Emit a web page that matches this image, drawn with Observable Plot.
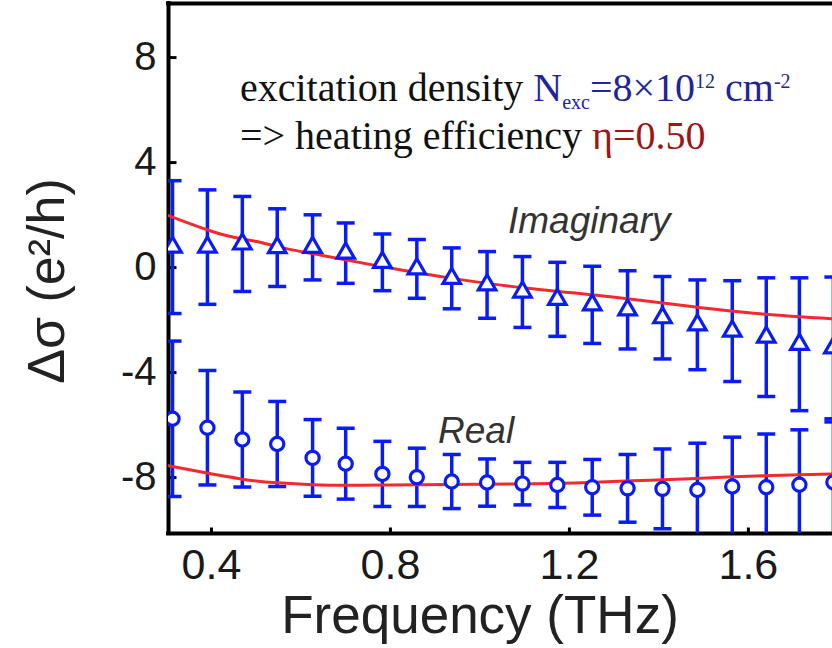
<!DOCTYPE html>
<html><head><meta charset="utf-8">
<script src="https://cdn.jsdelivr.net/npm/d3@7"></script>
<script src="https://cdn.jsdelivr.net/npm/@observablehq/plot@0.6"></script>
<style>
body{margin:0;background:#fff}
#chart{width:832px;height:648px;overflow:hidden}
</style>
</head><body><div id="chart"></div>
<script>
// ---- data ----
const freq = [0.313, 0.391, 0.469, 0.547, 0.626, 0.700, 0.782, 0.859, 0.937, 1.016, 1.095, 1.173, 1.251, 1.330, 1.408, 1.486, 1.564, 1.640, 1.714, 1.790];
const imag = [0.78, 0.78, 0.90, 0.76, 0.77, 0.55, 0.20, -0.05, -0.41, -0.66, -0.93, -1.21, -1.42, -1.61, -1.91, -2.18, -2.42, -2.65, -2.92, -3.06];
const imagErr = [2.53, 2.18, 1.81, 1.48, 1.24, 1.15, 1.08, 1.12, 1.16, 1.27, 1.35, 1.41, 1.47, 1.49, 1.57, 1.71, 1.92, 2.26, 2.53, 2.70];
const real = [-5.76, -6.10, -6.55, -6.72, -7.25, -7.47, -7.86, -7.99, -8.15, -8.19, -8.23, -8.28, -8.37, -8.41, -8.43, -8.47, -8.34, -8.37, -8.27, -8.18];
const realErr = [2.96, 2.18, 1.81, 1.62, 1.46, 1.35, 1.24, 1.11, 1.03, 0.90, 0.81, 0.86, 1.06, 1.29, 1.52, 1.78, 1.88, 2.03, 2.09, 2.30];

const fitImagFreq = [0.304, 0.42, 0.498, 0.554, 0.648, 0.796, 0.945, 1.095, 1.213, 1.33, 1.477, 1.627, 1.788];
const fitImag = [1.98, 1.28, 1.00, 0.77, 0.46, -0.01, -0.43, -0.77, -0.97, -1.19, -1.49, -1.76, -1.95];
const fitRealFreq = [0.304, 0.375, 0.469, 0.547, 0.626, 0.711, 0.796, 0.934, 1.095, 1.213, 1.269, 1.381, 1.47, 1.567, 1.716, 1.788];
const fitReal = [-7.55, -7.78, -8.06, -8.20, -8.27, -8.29, -8.28, -8.26, -8.24, -8.21, -8.17, -8.10, -8.04, -7.97, -7.89, -7.86];

const xTicks = [0.4, 0.8, 1.2, 1.6];
const yTicks = [-8, -4, 0, 4, 8];
const xDomain = [0.304, 1.788];
const yDomain = [-10.13, 10.06];

// ---- styling ----
const blue = "#0a1cf6", red = "#f22a2e", ink = "#1a1a1a";
const capSymbol = {draw(ctx){ ctx.moveTo(-9, 0); ctx.lineTo(9, 0); }};
const hTick = {draw(ctx){ ctx.moveTo(0, 0); ctx.lineTo(8, 0); }};
const vTick = {draw(ctx){ ctx.moveTo(0, 0); ctx.lineTo(0, -6); }};

const pts = freq.map((f, i) => ({f, im: imag[i], imE: imagErr[i], re: real[i], reE: realErr[i]}));
const caps = pts.flatMap(d => [
  {f: d.f, y: d.im + d.imE}, {f: d.f, y: d.im - d.imE},
  {f: d.f, y: d.re + d.reE}, {f: d.f, y: d.re - d.reE}
]);

const plot = Plot.plot({
  width: 832, height: 648,
  marginLeft: 168, marginRight: 0, marginTop: 3, marginBottom: 115,
  x: {domain: xDomain},
  y: {domain: yDomain},
  style: {fontFamily: "'Liberation Sans', Arial, sans-serif", color: ink, background: "#fff", overflow: "visible"},
  marks: [
    Plot.axisX({ticks: xTicks, tickSize: 0, tickPadding: 15, fontSize: 43, tickFormat: d3.format(".1f"), label: null, fill: ink}),
    Plot.axisY({ticks: yTicks, tickSize: 0, tickPadding: 12, fontSize: 40, tickFormat: d => String(d), label: null, fill: ink}),
    Plot.ruleX([xDomain[0]], {stroke: "#000", strokeWidth: 4, strokeLinecap: "square"}),
    Plot.ruleY([yDomain[0], yDomain[1]], {stroke: "#000", strokeWidth: 4, strokeLinecap: "square"}),
    Plot.dot(xTicks, {x: d => d, y: () => yDomain[0], symbol: vTick, stroke: "#000", strokeWidth: 3, fill: "none"}),
    Plot.dot(yTicks, {y: d => d, x: () => xDomain[0], symbol: hTick, stroke: "#000", strokeWidth: 3, fill: "none"}),
    // error bars
    Plot.ruleX(pts, {x: "f", y1: d => d.im - d.imE, y2: d => d.im + d.imE, stroke: blue, strokeWidth: 3.5, clip: true}),
    Plot.ruleX(pts, {x: "f", y1: d => d.re - d.reE, y2: d => d.re + d.reE, stroke: blue, strokeWidth: 3.5, clip: true}),
    Plot.dot(caps, {x: "f", y: "y", symbol: capSymbol, stroke: blue, strokeWidth: 3.5, fill: "none", clip: true}),
    // fits
    Plot.line(fitImag, {x: fitImagFreq, y: fitImag, curve: "natural", stroke: red, strokeWidth: 3, clip: true}),
    Plot.line(fitReal, {x: fitRealFreq, y: fitReal, curve: "natural", stroke: red, strokeWidth: 3, clip: true}),
    // markers
    Plot.dot(pts, {x: "f", y: "im", symbol: "triangle", r: 6.5, stroke: blue, strokeWidth: 3.2, fill: "white", clip: true}),
    Plot.dot(pts, {x: "f", y: "re", symbol: "circle", r: 6.6, stroke: blue, strokeWidth: 3.2, fill: "white", clip: true})
  ]
});

const svg = d3.select(plot);
const sans = "'Liberation Sans', Arial, sans-serif";
const serif = "'Liberation Serif', 'Times New Roman', serif";

// axis titles
svg.append("text").attr("x", 480).attr("y", 633).attr("text-anchor", "middle")
  .attr("font-family", sans).attr("font-size", 53).attr("fill", "#222").text("Frequency (THz)");
svg.append("text").attr("transform", "translate(64,281) rotate(-90)").attr("text-anchor", "middle")
  .attr("font-family", sans).attr("font-size", 52).attr("fill", "#222").text("Δσ (e²/h)");

// series labels
svg.append("text").attr("x", 508).attr("y", 233).attr("text-anchor", "start").attr("font-family", sans).attr("font-style", "italic")
  .attr("font-size", 37).attr("fill", "#333").text("Imaginary");
svg.append("text").attr("x", 438).attr("y", 443).attr("text-anchor", "start").attr("font-family", sans).attr("font-style", "italic")
  .attr("font-size", 37).attr("fill", "#333").text("Real");

// annotation
const navy = "#23239a", dred = "#9c1616";
const t1 = svg.append("text").attr("x", 240).attr("y", 101).attr("text-anchor", "start").attr("font-family", serif).attr("font-size", 40).attr("fill", "#111");
t1.append("tspan").text("excitation density ");
t1.append("tspan").attr("fill", navy).text("N");
t1.append("tspan").attr("fill", navy).attr("font-size", 20).attr("dy", 8).text("exc");
t1.append("tspan").attr("fill", navy).attr("dy", -8).text("=8×10");
t1.append("tspan").attr("fill", navy).attr("font-size", 20).attr("dy", -13).text("12");
t1.append("tspan").attr("fill", navy).attr("dy", 13).text(" cm");
t1.append("tspan").attr("fill", navy).attr("font-size", 20).attr("dy", -13).text("-2");

const t2 = svg.append("text").attr("x", 240).attr("y", 149).attr("text-anchor", "start").attr("font-family", serif).attr("font-size", 40).attr("fill", "#111");
t2.append("tspan").text("=> heating efficiency ");
t2.append("tspan").attr("fill", dred).text("η=0.50");

document.getElementById("chart").append(plot);
</script>
</body></html>
